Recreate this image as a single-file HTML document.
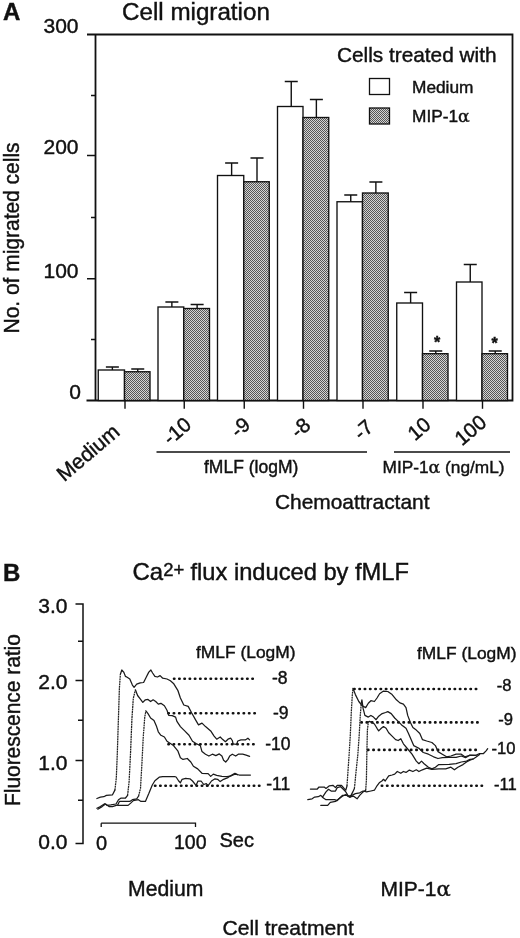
<!DOCTYPE html>
<html lang="en"><head><meta charset="utf-8"><title>Figure</title>
<style>
html,body{margin:0;padding:0;background:#fff;}
body{width:520px;height:938px;overflow:hidden;}
svg{display:block;}
text{font-family:"Liberation Sans", Arial, Helvetica, sans-serif;fill:#111;stroke:#111;stroke-width:0.42px;}
.al{font-family:"DejaVu Serif","Liberation Sans",serif;}
.ln{stroke:#111;fill:none;}
.tr{stroke:#1a1a1a;fill:none;stroke-width:1.25;stroke-linejoin:round;stroke-linecap:round;}
.st{stroke:#222;stroke-width:1.25;stroke-dasharray:1.9 0.6;stroke-linecap:butt;}
.dot{stroke:#111;fill:none;stroke-width:2.6;stroke-linecap:round;}
</style></head><body>
<svg width="520" height="938" viewBox="0 0 520 938">
<defs>
<pattern id="hatch" width="2" height="2" patternUnits="userSpaceOnUse">
<rect width="2" height="2" fill="#d4d4d4"/>
<rect x="0" y="0" width="1" height="1" fill="#565656"/>
<rect x="1" y="1" width="1" height="1" fill="#565656"/>
</pattern>
</defs>
<rect width="520" height="938" fill="#fff"/>

<text x="3" y="20" font-size="24" font-weight="bold">A</text>
<text x="122" y="20" font-size="24.2">Cell migration</text>
<path class="ln" stroke-width="1.8" d="M87.0 34.5H512.5V400.5H86.5M95.5 34.5V400.5"/>
<path class="ln" stroke-width="1.4" d="M91.0 339.5H95.5M91.0 217.5H95.5M91.0 95.5H95.5M87.0 278.8H95.5M87.0 155.5H95.5"/>
<text x="78.5" y="33.0" font-size="21" text-anchor="end">300</text>
<text x="78.5" y="154.2" font-size="21" text-anchor="end">200</text>
<text x="78.5" y="277.5" font-size="21" text-anchor="end">100</text>
<text x="81" y="399.2" font-size="21" text-anchor="end">0</text>
<text transform="translate(19.4 333.5) rotate(-90) scale(0.962 1)" font-size="21.8">No. of migrated cells</text>
<rect x="98.25" y="370.0" width="26.25" height="30.5" fill="#fff" stroke="#111" stroke-width="1.35"/>
<rect x="124.5" y="371.75" width="25.5" height="28.75" fill="url(#hatch)" stroke="#111" stroke-width="1.35"/>
<path class="ln" stroke-width="1.4" d="M112.375 370.0V367.0M105.875 367.0H118.875M137.75 371.75V369.0M131.25 369.0H144.25"/>
<path class="ln" stroke-width="1.4" d="M125.0 400.5V408.8"/>
<rect x="158.0" y="307.0" width="25.75" height="93.5" fill="#fff" stroke="#111" stroke-width="1.35"/>
<rect x="183.75" y="308.5" width="25.75" height="92.0" fill="url(#hatch)" stroke="#111" stroke-width="1.35"/>
<path class="ln" stroke-width="1.4" d="M171.875 307.0V302.0M165.375 302.0H178.375M197.125 308.5V304.5M190.625 304.5H203.625"/>
<path class="ln" stroke-width="1.4" d="M184.25 400.5V408.8"/>
<rect x="217.5" y="175.5" width="26.25" height="225.0" fill="#fff" stroke="#111" stroke-width="1.35"/>
<rect x="243.75" y="181.75" width="25.5" height="218.75" fill="url(#hatch)" stroke="#111" stroke-width="1.35"/>
<path class="ln" stroke-width="1.4" d="M231.625 175.5V163.0M225.125 163.0H238.125M257.0 181.75V158.0M250.5 158.0H263.5"/>
<path class="ln" stroke-width="1.4" d="M244.25 400.5V408.8"/>
<rect x="277.5" y="106.5" width="25.5" height="294.0" fill="#fff" stroke="#111" stroke-width="1.35"/>
<rect x="303.0" y="117.5" width="25.75" height="283.0" fill="url(#hatch)" stroke="#111" stroke-width="1.35"/>
<path class="ln" stroke-width="1.4" d="M291.25 106.5V81.5M284.75 81.5H297.75M316.375 117.5V99.5M309.875 99.5H322.875"/>
<path class="ln" stroke-width="1.4" d="M303.5 400.5V408.8"/>
<rect x="337.0" y="201.75" width="25.5" height="198.75" fill="#fff" stroke="#111" stroke-width="1.35"/>
<rect x="362.5" y="193.0" width="25.75" height="207.5" fill="url(#hatch)" stroke="#111" stroke-width="1.35"/>
<path class="ln" stroke-width="1.4" d="M350.75 201.75V195.0M344.25 195.0H357.25M375.875 193.0V182.0M369.375 182.0H382.375"/>
<path class="ln" stroke-width="1.4" d="M363.0 400.5V408.8"/>
<rect x="396.75" y="303.0" width="25.75" height="97.5" fill="#fff" stroke="#111" stroke-width="1.35"/>
<rect x="422.5" y="353.7" width="25.5" height="46.80000000000001" fill="url(#hatch)" stroke="#111" stroke-width="1.35"/>
<path class="ln" stroke-width="1.4" d="M410.625 303.0V292.5M404.125 292.5H417.125M435.75 353.7V351.0M429.25 351.0H442.25"/>
<path class="ln" stroke-width="1.4" d="M423.0 400.5V408.8"/>
<rect x="456.5" y="282.0" width="25.5" height="118.5" fill="#fff" stroke="#111" stroke-width="1.35"/>
<rect x="482.0" y="353.7" width="25.5" height="46.80000000000001" fill="url(#hatch)" stroke="#111" stroke-width="1.35"/>
<path class="ln" stroke-width="1.4" d="M470.25 282.0V264.5M463.75 264.5H476.75M495.25 353.7V351.0M488.75 351.0H501.75"/>
<path class="ln" stroke-width="1.4" d="M482.5 400.5V408.8"/>
<text x="437" y="347.6" font-size="16" text-anchor="middle" font-weight="bold">*</text>
<text x="494.7" y="348.6" font-size="16" text-anchor="middle" font-weight="bold">*</text>
<text transform="translate(121.1 433.8) rotate(-40.4)" font-size="21" text-anchor="end">Medium</text>
<text transform="translate(192.75 426.75) rotate(-40.4)" font-size="20.4" text-anchor="end">-10</text>
<text transform="translate(251.75 426.75) rotate(-40.4)" font-size="20.4" text-anchor="end">-9</text>
<text transform="translate(311.8 427.2) rotate(-40.4)" font-size="20.4" text-anchor="end">-8</text>
<text transform="translate(374.7 429.2) rotate(-40.4)" font-size="20.4" text-anchor="end">-7</text>
<text transform="translate(432.2 426.75) rotate(-40.4)" font-size="20.4" text-anchor="end">10</text>
<text transform="translate(487.8 424.5) rotate(-40.4)" font-size="20.4" text-anchor="end">100</text>
<path class="ln" stroke-width="1.4" d="M156.5 452H367M394 452H510"/>
<text x="204" y="473" font-size="17.5">fMLF (logM)</text>
<text x="382.5" y="473" font-size="17.3">MIP-1<tspan class="al">α</tspan> (ng/mL)</text>
<text x="275" y="509" font-size="20.9">Chemoattractant</text>
<text x="337" y="61.5" font-size="20.8">Cells treated with</text>
<rect x="369.5" y="78.5" width="20" height="16" fill="#fff" stroke="#111" stroke-width="1.3"/>
<rect x="369.5" y="108" width="20" height="16" fill="url(#hatch)" stroke="#111" stroke-width="1.3"/>
<text x="412" y="92.5" font-size="17.3">Medium</text>
<text x="412" y="121.5" font-size="17.3">MIP-1<tspan class="al">α</tspan></text>
<text x="3" y="580.5" font-size="24" font-weight="bold">B</text>
<text x="132.5" y="580" font-size="24">Ca<tspan font-size="18.5" dy="-4.5">2+</tspan></text><text x="409" y="580" font-size="23.7" text-anchor="end">flux induced by fMLF</text>
<path class="ln" stroke-width="1.5" d="M75.5 604.0H83.0V843.6H75.5M75.5 760.6H83.0M75.5 680.4H83.0M78.0 800.2H83.0M78.0 720.3H83.0M78.0 641.3H83.0"/>
<text x="67.5" y="613.4" font-size="21" text-anchor="end">3.0</text>
<text x="67.5" y="689.2" font-size="21" text-anchor="end">2.0</text>
<text x="67.5" y="770.0" font-size="21" text-anchor="end">1.0</text>
<text x="67.5" y="849.3" font-size="21" text-anchor="end">0.0</text>
<text transform="translate(20.2 806) rotate(-90) scale(0.963 1)" font-size="21.7">Fluorescence ratio</text>
<path class="ln" stroke-width="1.3" d="M101.2 823.2V827M101.2 823.2H195.5V827"/>
<text x="96" y="850.3" font-size="20">0</text>
<text x="174" y="848.5" font-size="19.5">100</text>
<text x="219.5" y="847" font-size="20">Sec</text>
<text x="196" y="658" font-size="17.4">fMLF (LogM)</text>
<text x="417" y="659" font-size="17.4">fMLF (LogM)</text>
<text x="287.6" y="684.3" font-size="17.5" text-anchor="end">-8</text>
<text x="288.6" y="719" font-size="17.5" text-anchor="end">-9</text>
<text x="290.6" y="750" font-size="17.5" text-anchor="end">-10</text>
<text x="290.3" y="789.5" font-size="17.5" text-anchor="end">-11</text>
<text x="496.8" y="690.5" font-size="16.6">-8</text>
<text x="498.3" y="725.3" font-size="16.6">-9</text>
<text x="491.5" y="754.2" font-size="16.6">-10</text>
<text x="494" y="790.3" font-size="16.6">-11</text>
<text x="128" y="896" font-size="21.2">Medium</text>
<text x="380.5" y="896" font-size="21">MIP-1<tspan class="al">α</tspan></text>
<text x="222.5" y="934.5" font-size="21.1">Cell treatment</text>
<path class="dot" stroke-dasharray="0.4 4.827" d="M174.0 678.7H252.9"/>
<path class="dot" stroke-dasharray="0.4 4.975" d="M168.4 713.3H254.9"/>
<path class="dot" stroke-dasharray="0.4 4.900" d="M168.4 744.3H253.70000000000002"/>
<path class="dot" stroke-dasharray="0.4 4.800" d="M155.0 785.7H259.5"/>
<path class="dot" stroke-dasharray="0.4 4.887" d="M354.2 689.0H476.3"/>
<path class="dot" stroke-dasharray="0.4 4.864" d="M361.40000000000003 722.4H477.7"/>
<path class="dot" stroke-dasharray="0.4 4.970" d="M368.0 749.9H475.90000000000003"/>
<path class="dot" stroke-dasharray="0.4 4.853" d="M381.8 785.8H482.1"/>
<path class="tr" d="M96.9 798.5 L100.4 797.1 L103.8 796.7 L106.4 795.4 L112.5 794.8 L114.9 790.1"/>
<path class="tr st" d="M114.9 790.1 L116.3 778.0 L117.3 753.8 L118.4 719.2 L119.4 688.1 L120.4 674.2"/>
<path class="tr" d="M120.4 674.2 L121.8 670.0 L123.7 672.1 L125.5 676.4 L127.2 677.3 L129.8 679.0 L132.4 685.1 L134.1 687.3 L136.7 684.2 L140.2 682.8 L143.6 682.5 L146.2 677.3 L148.8 672.1 L150.9 670.0 L152.6 673.0 L154.9 676.4 L157.5 677.0 L160.1 675.6 L162.7 678.2 L167.0 679.0 L170.4 680.8 L173.5 683.4 L177.8 690.3 L180.4 698.0 L183.8 705.0 L188.2 706.4 L191.6 712.8 L196.0 720.6 L198.5 724.9 L202.0 723.1 L205.5 726.6 L210.7 730.9 L214.1 736.1 L216.7 739.2 L220.2 737.0 L222.8 739.6 L225.4 741.7 L228.0 739.2 L230.6 738.2 L232.3 740.5 L233.1 743.9 L236.6 744.4 L237.8 741.0 L240.9 739.9 L245.3 739.9 L247.9 738.2 L249.6 739.9"/>
<path class="tr" d="M96.9 808.3 L100.4 806.6 L104.7 803.7 L107.3 805.4 L110.8 804.9 L116.0 804.0 L118.5 799.7 L121.1 798.0 L125.5 798.0 L127.6 795.3"/>
<path class="tr st" d="M127.6 795.3 L129.1 781.5 L130.5 753.8 L131.9 719.2 L133.3 698.4 L135.4 689.8"/>
<path class="tr" d="M135.4 689.8 L137.6 695.5 L140.2 698.9 L142.8 702.4 L145.4 699.8 L148.0 699.4 L150.6 701.5 L153.1 699.8 L155.7 701.5 L158.3 704.1 L160.9 703.3 L164.4 705.8 L167.0 710.2 L168.7 715.4 L172.2 715.7 L175.6 717.1 L176.9 721.4 L180.4 726.6 L184.7 730.9 L189.0 735.3 L192.5 741.3 L196.0 743.5 L200.3 745.6 L202.0 751.6 L205.5 754.2 L208.9 756.0 L212.4 754.2 L215.8 755.6 L219.3 753.9 L221.9 756.0 L223.6 760.3 L225.7 762.0 L228.0 759.4 L229.7 756.0 L232.3 754.2 L235.7 756.0 L238.3 754.2 L242.7 754.2 L246.1 755.1 L249.6 756.3"/>
<path class="tr" d="M97.8 809.2 L102.1 806.6 L105.6 804.0 L109.0 806.6 L112.5 806.6 L117.7 804.9 L119.4 801.4 L129.8 801.4 L132.4 799.7 L136.7 798.8 L138.6 796.0"/>
<path class="tr st" d="M138.6 796.0 L140.5 788.4 L141.9 764.2 L143.3 736.5 L144.7 717.5 L145.9 710.8"/>
<path class="tr" d="M145.9 710.8 L148.0 713.6 L150.6 718.0 L154.0 720.6 L156.6 726.6 L158.3 731.8 L160.9 735.3 L164.4 737.0 L167.0 741.3 L169.6 743.0 L173.5 745.6 L177.8 750.8 L180.4 757.7 L183.0 759.4 L187.3 758.5 L190.8 762.0 L193.4 766.3 L197.7 768.9 L202.0 773.3 L208.1 773.6 L210.7 776.4 L213.3 774.1 L216.7 775.3 L221.9 776.4 L227.1 776.7 L231.4 775.8 L234.9 774.1 L239.2 775.0 L250.4 775.0"/>
<path class="tr" d="M117.7 805.4 L128.1 805.4 L130.7 803.1 L133.3 800.6 L138.4 799.7 L141.0 801.4 L145.4 801.4 L148.8 793.6 L152.3 785.0 L154.9 780.7 L159.2 777.2 L162.7 776.7 L174.8 776.7 L176.1 777.0 L178.7 781.0 L180.4 782.8 L182.1 779.3 L185.6 778.4 L189.9 778.8 L192.5 781.0 L196.0 785.4 L198.0 781.0 L201.1 781.0 L203.7 784.5 L206.3 783.6 L208.1 785.7 L211.5 781.0 L215.0 778.8 L217.6 779.3 L220.2 781.6 L223.6 779.3 L228.0 777.6 L231.4 775.3 L234.9 773.3 L237.5 774.6"/>
<path class="tr" d="M310.4 789.0 L317.3 789.0 L319.0 787.0 L324.2 787.0 L326.0 788.4 L329.4 785.8 L332.9 785.3 L335.5 787.6 L337.2 785.3 L341.5 785.3 L344.1 788.4 L345.8 790.2 L347.0 786.0"/>
<path class="tr st" d="M347.0 786.0 L347.8 774.2 L349.1 755.0 L350.3 735.0 L351.3 712.0 L352.3 695.0 L353.0 688.4"/>
<path class="tr" d="M353.0 688.4 L355.4 694.6 L358.8 701.5 L362.3 705.8 L365.7 707.6 L368.3 703.3 L370.9 700.7 L374.4 701.5 L377.0 698.0 L379.6 693.7 L383.5 691.1 L387.8 691.5 L392.1 694.6 L396.4 699.8 L399.9 702.9 L403.4 704.1 L406.0 707.6 L407.7 715.4 L410.3 722.3 L412.9 727.5 L416.3 730.1 L419.8 733.5 L422.4 739.6 L426.7 741.0 L431.9 742.5 L435.4 745.6 L438.0 751.6 L442.3 754.2 L446.6 756.8 L450.9 756.0 L456.1 754.2 L461.3 754.2 L464.8 756.8 L467.4 756.0 L470.0 755.4 L475.8 755.4 L479.6 753.5 L483.5 753.5 L486.3 750.6 L487.7 748.7"/>
<path class="tr" d="M307.8 799.7 L312.1 798.8 L314.7 797.1 L318.2 796.7 L320.8 795.4 L323.4 798.0 L326.0 799.7 L334.6 799.7 L337.2 800.6 L339.8 798.0 L342.4 795.4 L346.7 795.4 L350.2 797.1 L352.8 791.9 L354.4 788.4"/>
<path class="tr st" d="M354.4 788.4 L355.8 774.2 L357.8 755.0 L359.2 735.0 L360.3 715.0 L361.3 703.0"/>
<path class="tr" d="M361.3 703.0 L361.9 699.8 L363.1 708.4 L364.9 715.4 L368.3 717.1 L370.9 715.4 L373.5 717.1 L376.1 719.7 L378.7 716.2 L382.2 713.6 L385.6 712.5 L387.8 711.6 L391.2 713.6 L394.7 718.0 L398.2 721.4 L401.6 724.9 L406.0 728.3 L408.5 733.5 L411.1 739.6 L413.7 745.6 L418.9 748.2 L423.3 752.5 L428.4 754.2 L433.6 756.8 L438.0 758.5 L442.3 757.7 L449.2 757.3 L456.1 757.3 L461.3 756.0 L465.6 757.7 L470.0 755.0 L475.8 755.4"/>
<path class="tr" d="M320.8 805.4 L327.7 805.4 L330.3 802.3 L335.5 801.4 L338.9 798.8 L342.4 796.2 L345.8 794.5 L349.3 797.1 L353.6 796.2 L357.1 798.8 L359.7 795.4 L363.1 791.9 L365.7 790.2"/>
<path class="tr st" d="M365.7 790.2 L366.4 780.0 L366.9 750.4 L367.4 730.0 L368.4 721.8"/>
<path class="tr" d="M368.4 721.8 L369.5 721.4 L371.8 722.3 L374.4 724.0 L377.0 728.3 L378.7 730.9 L381.3 728.3 L383.5 726.6 L386.1 728.3 L388.7 732.7 L392.1 736.1 L395.6 739.6 L398.2 740.5 L400.8 738.7 L403.4 743.8 L407.7 749.0 L412.0 754.2 L416.3 761.1 L418.9 763.7 L421.5 761.1 L424.1 763.7 L428.4 767.2 L431.9 768.9 L435.4 767.2 L438.8 764.6 L449.2 764.3 L456.1 763.7 L461.3 762.0 L466.5 761.1 L470.0 759.4 L472.9 759.2 L475.8 757.3 L479.6 754.4"/>
<path class="tr" d="M322.5 797.1 L326.0 791.9 L328.5 789.3 L331.1 791.0 L335.5 791.0 L337.2 787.6 L340.7 786.7 L343.3 789.3 L345.8 791.9 L348.4 796.2 L351.9 795.4 L355.4 793.6 L359.7 792.8 L363.1 791.0 L366.6 791.9 L370.9 791.0 L374.4 790.2 L377.0 785.8 L379.6 782.4 L382.2 780.7 L383.5 779.3 L385.2 781.0 L388.7 775.8 L392.1 775.0 L394.7 774.1 L397.3 771.5 L400.8 773.3 L403.4 771.5 L406.0 772.4 L409.4 770.1 L412.9 771.5 L416.3 769.8 L418.9 771.5 L422.4 769.8 L426.7 768.1 L431.9 769.4 L438.8 768.9 L445.7 768.9 L450.9 767.2 L454.4 769.8 L457.9 767.2 L463.0 764.6 L466.5 762.0 L470.0 760.3 L473.0 759.0"/>
</svg></body></html>
